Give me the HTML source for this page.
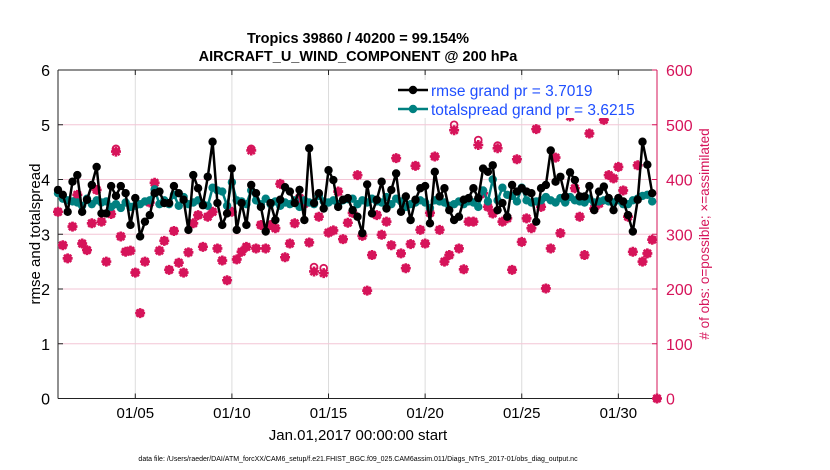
<!DOCTYPE html>
<html><head><meta charset="utf-8"><style>
body{margin:0;background:#fff;}
svg{display:block;font-family:"Liberation Sans",Arial,sans-serif;}
</style></head><body>
<svg id="chart" width="830" height="470" viewBox="0 0 830 470">
<rect width="830" height="470" fill="#fff"/>
<text x="358" y="43" text-anchor="middle" font-size="14.5" font-weight="bold">Tropics 39860 / 40200 = 99.154%</text>
<text x="358" y="61" text-anchor="middle" font-size="14.5" font-weight="bold">AIRCRAFT_U_WIND_COMPONENT @ 200 hPa</text>
<g id="grid"></g>
<g id="axes"></g>
<g id="marks"></g>
<text transform="translate(40,234) rotate(-90)" text-anchor="middle" font-size="15">rmse and totalspread</text>
<text transform="translate(709,234) rotate(-90)" text-anchor="middle" font-size="13.5" fill="#d6145a"># of obs: o=possible; ×=assimilated</text>
<text x="358" y="440" text-anchor="middle" font-size="15">Jan.01,2017 00:00:00 start</text>
<text x="358" y="461" text-anchor="middle" font-size="7">data file: /Users/raeder/DAI/ATM_forcXX/CAM6_setup/f.e21.FHIST_BGC.f09_025.CAM6assim.011/Diags_NTrS_2017-01/obs_diag_output.nc</text>
<g id="legend"></g>
</svg>
<script>
const rmse=[3.81,3.72,3.41,3.96,4.08,3.41,3.63,3.90,4.23,3.38,3.38,3.88,3.70,3.88,3.75,3.17,3.66,2.96,3.23,3.35,3.75,3.78,3.57,3.57,3.88,3.75,3.63,3.08,4.08,3.84,3.53,4.05,4.69,3.57,3.17,3.38,4.20,3.08,3.57,3.17,3.90,3.75,3.50,
3.05,3.57,3.26,3.63,3.86,3.78,3.57,3.81,3.26,4.57,3.57,3.75,3.47,4.17,3.99,3.50,3.63,3.66,3.44,3.32,3.02,3.91,3.38,3.63,3.96,3.47,3.81,4.11,3.41,3.69,3.26,3.63,3.84,3.88,3.20,4.14,3.69,3.84,3.44,3.26,3.32,
3.63,3.66,3.84,3.66,4.20,4.14,4.26,3.44,3.57,3.32,3.90,3.78,3.84,3.78,3.75,3.23,3.84,3.90,4.53,3.96,4.05,3.69,4.13,3.99,3.69,3.69,3.88,3.44,3.78,3.87,3.66,3.44,3.66,3.60,3.35,3.05,3.63,4.69,4.27,3.75];
const spread=[3.75,3.65,3.62,3.60,3.58,3.52,3.65,3.55,3.62,3.58,3.60,3.50,3.55,3.48,3.58,3.50,3.52,3.55,3.60,3.62,3.82,3.55,3.62,3.55,3.72,3.52,3.68,3.55,3.58,3.62,3.55,3.52,3.85,3.80,3.78,3.52,3.95,3.62,3.60,3.55,3.80,3.62,3.55,
3.65,3.55,3.60,3.52,3.58,3.55,3.62,3.50,3.62,3.58,3.55,3.70,3.60,3.58,3.62,3.55,3.62,3.64,3.65,3.55,3.62,3.58,3.65,3.60,3.58,3.68,3.55,3.65,3.60,3.50,3.55,3.58,3.62,3.58,3.48,3.62,3.60,3.58,3.52,3.55,3.60,
3.55,3.60,3.58,3.50,3.80,3.60,4.00,3.62,3.85,3.72,3.70,3.60,3.85,3.62,3.58,3.60,3.62,3.68,3.62,3.58,3.66,3.58,3.68,3.62,3.60,3.58,3.65,3.58,3.60,3.62,3.60,3.58,3.62,3.55,3.55,3.62,3.65,3.70,3.72,3.60];
const obsAssim=[341,280,256,314,372,283,271,320,381,323,250,337,451,296,268,270,230,156,250,358,394,270,288,235,306,248,230,267,320,335,277,332,341,274,252,216,341,254,268,277,453,274,317,
274,317,311,392,258,283,320,366,356,285,232,332,229,303,307,378,291,321,339,408,297,197,262,335,299,323,280,439,265,238,282,425,308,283,339,442,308,250,262,490,274,236,323,
323,463,375,350,338,457,323,329,235,437,286,329,311,492,350,201,274,440,302,363,515,384,332,262,484,347,356,509,408,402,423,380,332,268,426,250,265,290,0];
const obsPoss=[341,280,256,314,372,283,271,320,381,323,250,337,456,296,268,270,230,156,250,358,394,270,288,235,306,248,230,267,320,335,277,332,341,274,252,216,341,254,268,277,456,274,317,
274,317,311,392,258,283,320,366,356,285,240,332,238,303,307,378,291,321,339,408,297,197,262,335,299,323,280,439,265,238,282,425,308,283,339,442,308,250,262,500,274,236,323,
323,472,375,350,338,462,323,329,235,437,286,329,311,492,350,201,274,440,302,363,527,384,332,262,484,347,356,509,408,402,423,380,332,268,426,250,265,290,0];
const leftTicks=[0,1,2,3,4,5,6];
const rightTicks=[0,100,200,300,400,500,600];
const xTickDays=[4,9,14,19,24,29];
const xTickLabels=["01/05","01/10","01/15","01/20","01/25","01/30"];
const legendLabels=["rmse grand pr = 3.7019","totalspread grand pr = 3.6215"];
const stepDays=0.25;

const X0=58,X1=657,Y0=398.5,Y1=70,DAYS=31;
const xS=d=>X0+(X1-X0)*d/DAYS;
const yL=v=>Y0-(Y0-Y1)*v/6;
const yR=v=>Y0-(Y0-Y1)*v/600;
const NS="http://www.w3.org/2000/svg";
function mk(tag,attrs,parent,txt){const e=document.createElementNS(NS,tag);for(const k in attrs)e.setAttribute(k,attrs[k]);if(txt!==undefined)e.textContent=txt;parent.appendChild(e);return e;}
const grid=document.getElementById('grid'),axes=document.getElementById('axes'),marks=document.getElementById('marks'),legend=document.getElementById('legend');
const MAG="#d6145a";
xTickDays.forEach((d,i)=>{const l=mk('line',{x1:xS(d),x2:xS(d),y1:Y1,y2:Y0,stroke:"#dcdcdc","stroke-width":1},grid);

});
rightTicks.forEach(v=>{if(v===0||v===600)return;const l=mk('line',{x1:X0,x2:X1,y1:yR(v),y2:yR(v),stroke:"#f3c6d6","stroke-width":1},grid);

});
mk('line',{x1:X0,x2:X1,y1:Y1,y2:Y1,stroke:"#222","stroke-width":1},axes);
mk('line',{x1:X0,x2:X1,y1:Y0,y2:Y0,stroke:"#222","stroke-width":1},axes);
mk('line',{x1:X0,x2:X0,y1:Y1,y2:Y0,stroke:"#222","stroke-width":1},axes);
mk('line',{x1:X1,x2:X1,y1:Y1,y2:Y0,stroke:MAG,"stroke-width":1},axes);
leftTicks.forEach(v=>{mk('line',{x1:X0,x2:X0+5,y1:yL(v),y2:yL(v),stroke:"#222"},axes);
const t=mk('text',{x:X0-8,y:yL(v)+6,"text-anchor":"end","font-size":16},axes,String(v));

});
rightTicks.forEach(v=>{mk('line',{x1:X1-5,x2:X1,y1:yR(v),y2:yR(v),stroke:MAG},axes);
const t=mk('text',{x:X1+9,y:yR(v)+6,"font-size":16,fill:MAG},axes,String(v));

});
xTickDays.forEach((d,i)=>{mk('line',{x1:xS(d),x2:xS(d),y1:Y0,y2:Y0-5,stroke:"#222"},axes);mk('line',{x1:xS(d),x2:xS(d),y1:Y1,y2:Y1+5,stroke:"#222"},axes);
const t=mk('text',{x:xS(d),y:418,"text-anchor":"middle","font-size":15},axes,xTickLabels[i]);

});
function star(cx,cy,g){const r=5;mk('path',{d:`M${cx-r},${cy}H${cx+r}M${cx},${cy-r}V${cy+r}M${cx-3.6},${cy-3.6}L${cx+3.6},${cy+3.6}M${cx-3.6},${cy+3.6}L${cx+3.6},${cy-3.6}`,stroke:MAG,"stroke-width":2.6,fill:"none"},g);mk('circle',{cx:cx,cy:cy,r:3.2,fill:MAG},g);}
obsPoss.forEach((v,i)=>{const c=mk('circle',{cx:xS(i*stepDays),cy:yR(v),r:3.4,fill:"none",stroke:MAG,"stroke-width":1.8},marks);

});
obsAssim.forEach((v,i)=>{const g=mk('g',{},marks);star(xS(i*stepDays),yR(v),g);

});
function series(arr,col,name){const pts=arr.map((v,i)=>xS(i*stepDays).toFixed(1)+','+yL(v).toFixed(1)).join(' ');
const pl=mk('polyline',{points:pts,fill:"none",stroke:col,"stroke-width":2.5},marks);


arr.forEach((v,i)=>{const c=mk('circle',{cx:xS(i*stepDays),cy:yL(v),r:4.2,fill:col},marks);

});}
series(spread,"#008080","totalspread");
series(rmse,"#000","rmse");
mk('rect',{x:395,y:80,width:250,height:38,fill:"#fff"},legend);
[["#000",90],["#008080",109]].forEach((c,i)=>{mk('line',{x1:398,x2:428,y1:c[1],y2:c[1],stroke:c[0],"stroke-width":2.5},legend);mk('circle',{cx:413,cy:c[1],r:4.2,fill:c[0]},legend);
const t=mk('text',{x:431,y:c[1]+6,"font-size":15.5,fill:"#1f4fff"},legend,legendLabels[i]);

});
</script>
</body></html>
